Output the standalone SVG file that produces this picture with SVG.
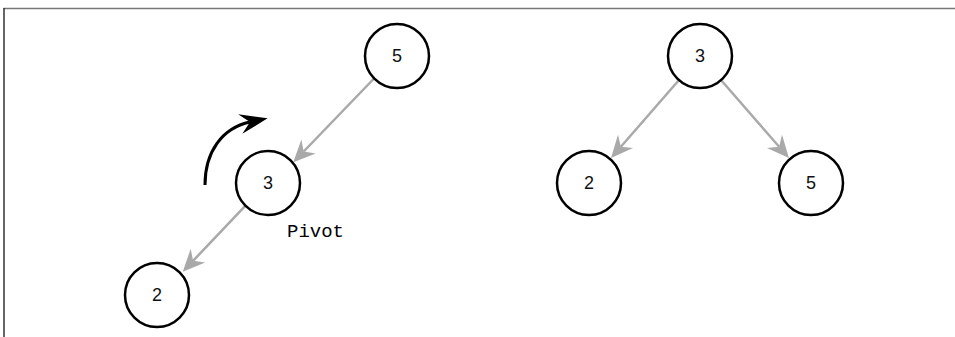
<svg xmlns="http://www.w3.org/2000/svg" width="955" height="337" viewBox="0 0 955 337">
  <style>
    .node circle { fill: #ffffff; stroke: #000000; stroke-width: 2.5; }
    .node text { font-family: "Liberation Sans", Arial, sans-serif; font-size: 18px; fill: #111111; text-anchor: middle; dominant-baseline: central; }
    .edge { stroke: #a9a9a9; stroke-width: 2.5; fill: none; marker-end: url(#grayHead); }
    .label { font-family: "Liberation Mono", "Courier New", monospace; font-size: 19px; fill: #000000; }
  </style>
  <defs>
    <!-- arrowheads are anchored at their notch so the shaft ends inside the head -->
    <marker id="grayHead" viewBox="-24 -11 26 22" refX="-15" refY="0" markerWidth="26" markerHeight="22" markerUnits="userSpaceOnUse" orient="auto">
      <path d="M0,0 L-22,-10 L-15,0 L-22,10 Z" fill="#a9a9a9"/>
    </marker>
    <marker id="blackHead" viewBox="-30 -12 32 24" refX="-18" refY="0" markerWidth="32" markerHeight="24" markerUnits="userSpaceOnUse" orient="auto">
      <path d="M0,0 L-28,-10 L-18,0 L-28,10 Z" fill="#000000"/>
    </marker>
  </defs>

  <!-- frame -->
  <line x1="3.5" y1="8.5" x2="955" y2="8.5" stroke="#777777" stroke-width="1.5"/>
  <line x1="4" y1="8" x2="4" y2="337" stroke="#333333" stroke-width="1.5"/>

  <!-- connectors -->
  <g id="connectors">
    <line class="edge" x1="374" y1="78.5" x2="303.7" y2="151.5"/>
    <line class="edge" x1="245.5" y1="205.7" x2="193.1" y2="260.8"/>
    <line class="edge" x1="679" y1="80" x2="620.9" y2="146.7"/>
    <line class="edge" x1="721" y1="80" x2="779.1" y2="146.7"/>
    <!-- rotation arrow -->
    <path d="M205,185 C205,152 222,128 250,122" fill="none" stroke="#000000" stroke-width="3" marker-end="url(#blackHead)"/>
  </g>

  <!-- before rotation -->
  <g id="left-5" class="node">
    <circle cx="397" cy="56" r="32"/>
    <text x="397" y="56">5</text>
  </g>
  <g id="left-3" class="node">
    <circle cx="268" cy="183" r="32"/>
    <text x="268" y="183">3</text>
  </g>
  <g id="left-2" class="node">
    <circle cx="157" cy="295" r="32"/>
    <text x="157" y="295">2</text>
  </g>
  <text id="pivot-label" class="label" x="287" y="237">Pivot</text>

  <!-- after rotation -->
  <g id="right-3" class="node">
    <circle cx="700" cy="56" r="32"/>
    <text x="700" y="56">3</text>
  </g>
  <g id="right-2" class="node">
    <circle cx="589" cy="183" r="32"/>
    <text x="589" y="183">2</text>
  </g>
  <g id="right-5" class="node">
    <circle cx="811" cy="183" r="32"/>
    <text x="811" y="183">5</text>
  </g>
</svg>
